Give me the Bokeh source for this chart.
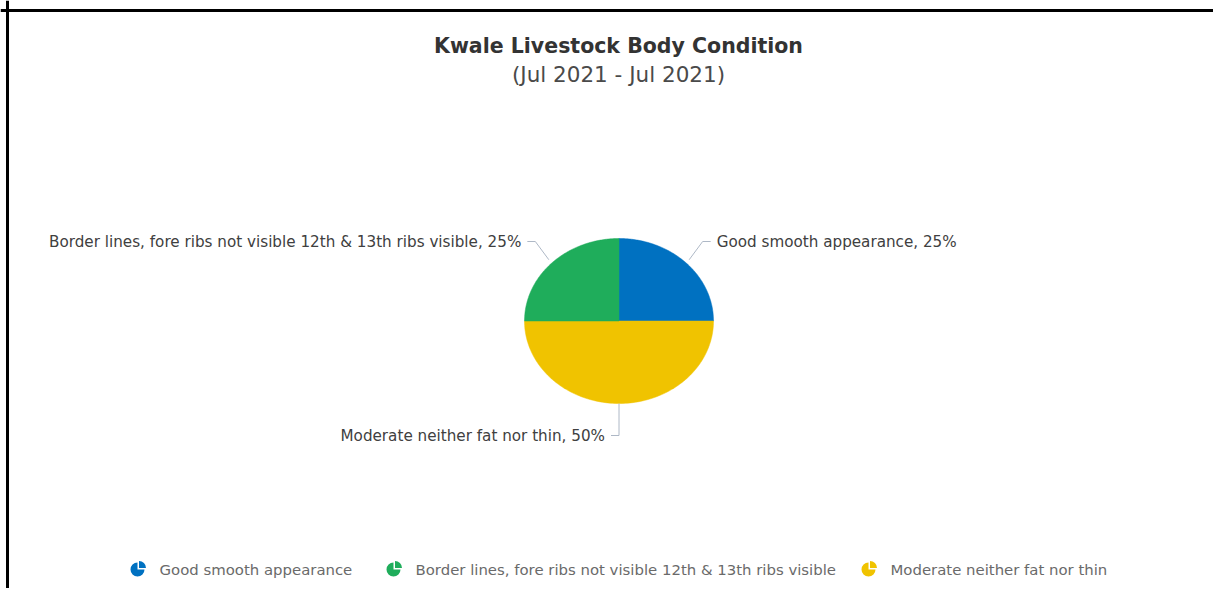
import numpy as np
from bokeh.plotting import figure
from bokeh.models import Range1d, Span
from bokeh.core.properties import value
from bokeh.embed import file_html
from bokeh.resources import INLINE

# ---------------- data ----------------
categories = [
    "Good smooth appearance",
    "Border lines, fore ribs not visible 12th & 13th ribs visible",
    "Moderate neither fat nor thin",
]
percent = [25, 25, 50]
colors = ["#0071C1", "#1FAD5B", "#F0C300"]
title_text = "Kwale Livestock Body Condition"
subtitle_text = "(Jul 2021 - Jul 2021)"
# drawing order of slices, clockwise from 12 o'clock
slice_order = [0, 2, 1]

# ---------------- layout (picture pixel coordinates) ----------------
W, H = 1213, 588

CX, CY, RX, RY = 618.5, 320.5, 94.5, 82.5
FONT = "DejaVu Sans"

p = figure(width=W, height=H, output_backend="svg", toolbar_location=None,
           x_range=Range1d(0, W), y_range=Range1d(H, 0), min_border=0)
p.axis.visible = False
p.grid.visible = False
p.outline_line_color = None
p.background_fill_color = "white"
p.border_fill_color = "white"

# frame lines (top and left) as in the reference screenshot
p.add_layout(Span(location=10, dimension="width", line_color="black", line_width=3))
p.add_layout(Span(location=7, dimension="height", line_color="black", line_width=3))

# ---------------- pie (elliptical) ----------------
total = float(sum(percent))
xs, ys, fills, mids = [], [], [], {}
start = 0.0
for i in slice_order:
    frac = percent[i] / total
    end = start + frac * 2 * np.pi
    t = np.linspace(start, end, 120)
    px = [CX] + list(CX + RX * np.sin(t)) + [CX]
    py = [CY] + list(CY - RY * np.cos(t)) + [CY]
    xs.append(px)
    ys.append(py)
    fills.append(colors[i])
    mids[i] = (start + end) / 2
    start = end

p.patches(xs=xs, ys=ys, fill_color=fills, line_color=fills, line_width=0.5)

# ---------------- data labels with connectors ----------------
label_y = {0: 241, 1: 241, 2: 435}
conn_color = "#AEB8C6"
for i in slice_order:
    m = mids[i]
    sx = np.sin(m)
    ex = CX + RX * 1.05 * sx
    ey = CY - RY * 1.05 * np.cos(m)
    ly = label_y[i]
    if abs(sx) < 0.2:
        ex = CX
        ey = CY + RY
        elbow = (ex, ly)
        end_x = ex - 8
        side = -1
    else:
        side = 1 if sx > 0 else -1
        elbow = (ex + side * 13.5, ly)
        end_x = elbow[0] + side * 8
    p.line(x=[ex, elbow[0], end_x], y=[ey, elbow[1], ly],
           line_color=conn_color, line_width=1)
    p.text(x=[end_x + side * 6], y=[ly],
           text=[f"{categories[i]}, {percent[i]}%"],
           text_font=value(FONT), text_font_size="15.2px", text_color="#404040",
           text_align="left" if side > 0 else "right", text_baseline="middle")

# ---------------- title ----------------
p.text(x=[618], y=[45], text=[title_text], text_font=value(FONT),
       text_font_size="20.5px", text_font_style="bold", text_color="#333333",
       text_align="center", text_baseline="middle")
p.text(x=[618], y=[74], text=[subtitle_text], text_font=value(FONT),
       text_font_size="21.5px", text_color="#4a4a4a",
       text_align="center", text_baseline="middle")

# ---------------- legend ----------------
leg_icon_x = [137, 393, 868]
leg_y = 569
for k in range(3):
    ix = leg_icon_x[k]
    iy = leg_y
    p.wedge(x=[ix], y=[iy], radius=7, radius_units="screen",
            start_angle=np.pi / 2, end_angle=2 * np.pi,
            fill_color=colors[k], line_color=None)
    p.wedge(x=[ix + 1.5], y=[iy - 1.5], radius=7, radius_units="screen",
            start_angle=0, end_angle=np.pi / 2,
            fill_color=colors[k], line_color=None)
    p.text(x=[ix + 22], y=[iy], text=[categories[k]], text_font=value(FONT),
           text_font_size="14.9px", text_color="#6a6a6a",
           text_align="left", text_baseline="middle")

open("out.html", "w").write(file_html(p, INLINE))
